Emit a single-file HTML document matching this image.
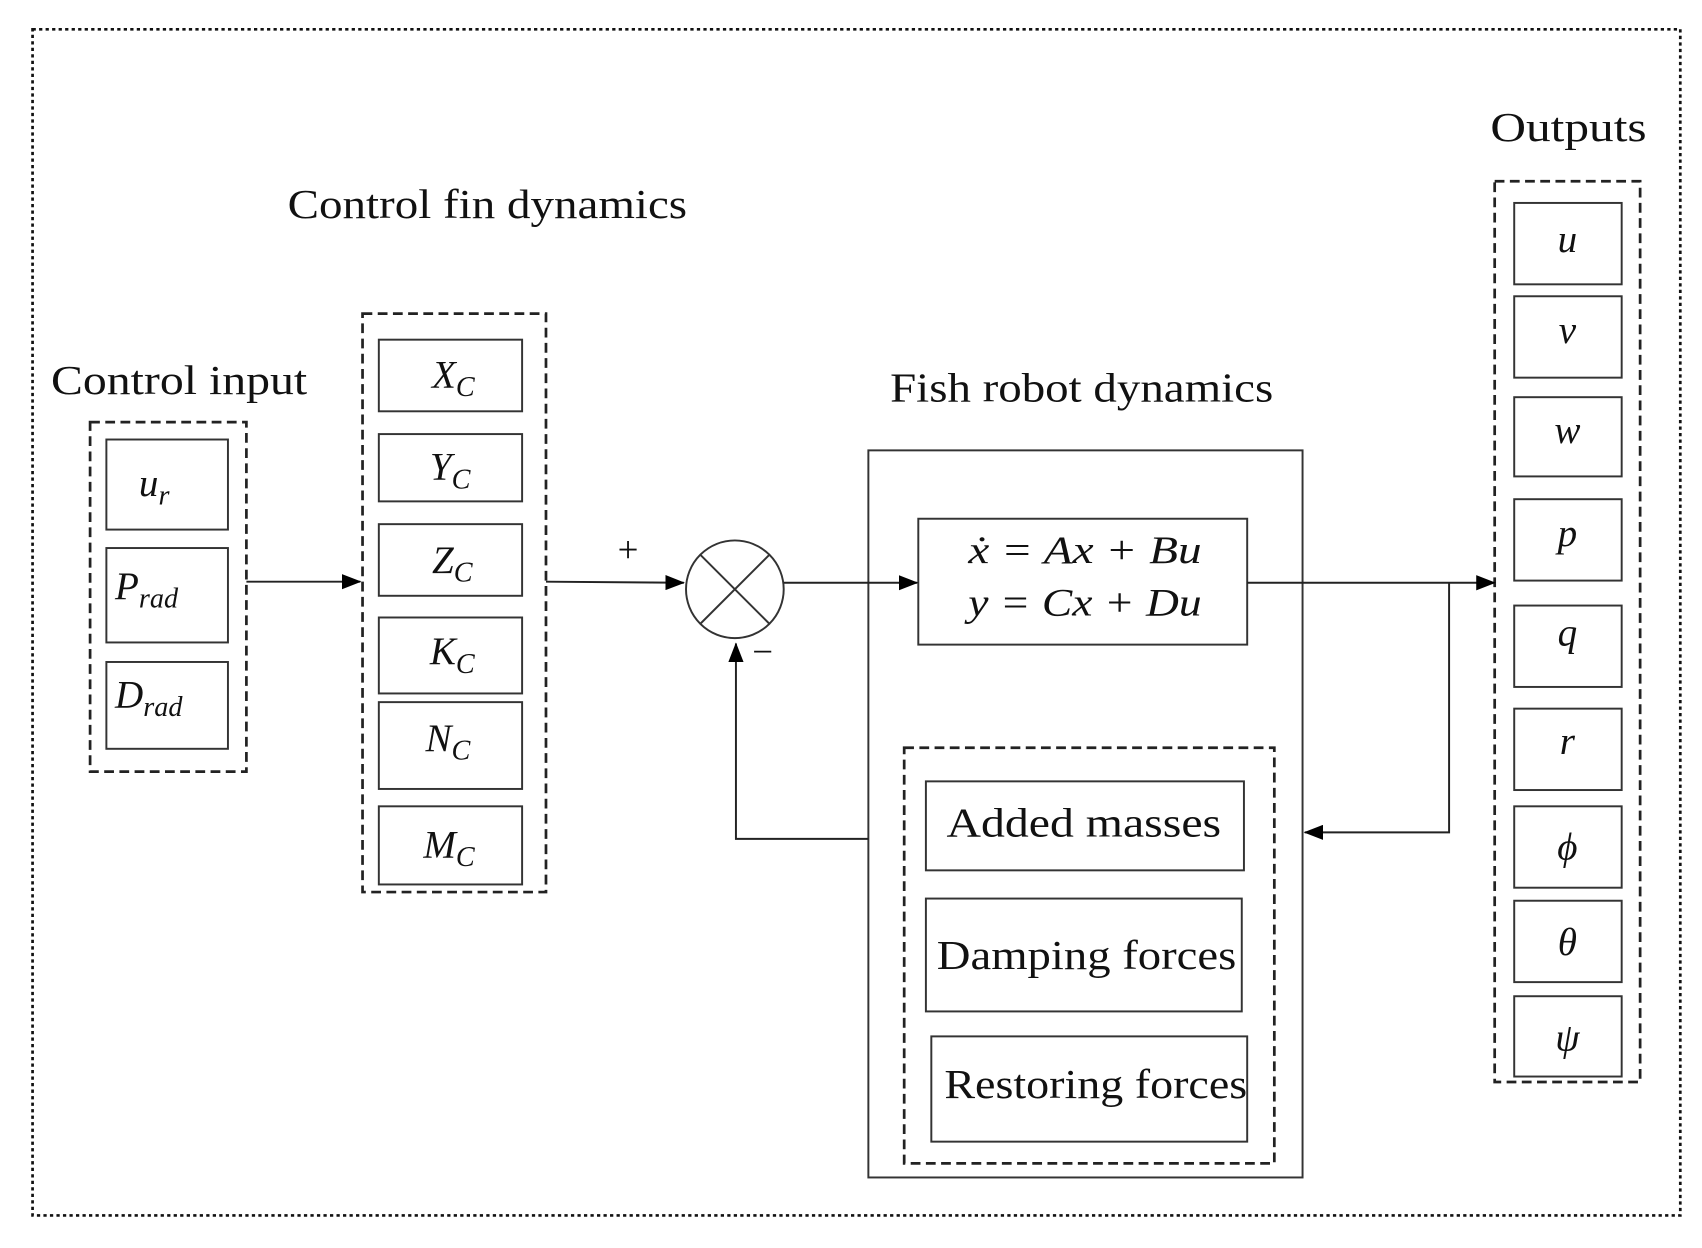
<!DOCTYPE html>
<html><head><meta charset="utf-8"><style>
html,body{margin:0;padding:0;background:#fff;}
svg{display:block;}
text{font-family:"Liberation Serif",serif;fill:#111;}
.m{font-style:italic;}
</style></head><body>
<svg width="1702" height="1248" viewBox="0 0 1568 1150" preserveAspectRatio="none" xmlns="http://www.w3.org/2000/svg">
<defs>
<marker id="b" markerWidth="18" markerHeight="14" refX="17" refY="7" orient="auto" markerUnits="userSpaceOnUse"><path d="M0,0 L18,7 L0,14 z" fill="#000"/></marker></defs>
<rect x="30" y="27" width="1518" height="1093" fill="none" stroke="#111" stroke-width="2.5" stroke-dasharray="3,3"/>
<g fill="none" stroke="#222" stroke-width="2.5" stroke-dasharray="9,5">
<rect x="83" y="389" width="144" height="322"/>
<rect x="334" y="289" width="169" height="533"/>
<rect x="833" y="689" width="341" height="383"/>
<rect x="1377" y="167" width="134" height="830"/>
</g>
<g fill="none" stroke="#333" stroke-width="1.8">
<rect x="98" y="405" width="112" height="83"/><rect x="98" y="505" width="112" height="87"/><rect x="98" y="610" width="112" height="80"/>
<rect x="349" y="313" width="132" height="66"/><rect x="349" y="400" width="132" height="62"/><rect x="349" y="483" width="132" height="66"/>
<rect x="349" y="569" width="132" height="70"/><rect x="349" y="647" width="132" height="80"/><rect x="349" y="743" width="132" height="72"/>
<rect x="800" y="415" width="400" height="670"/>
<rect x="846" y="478" width="303" height="116"/>
<rect x="853" y="720" width="293" height="82"/><rect x="853" y="828" width="291" height="104"/><rect x="858" y="955" width="291" height="97"/>
<rect x="1395" y="187" width="99" height="75"/><rect x="1395" y="273" width="99" height="75"/><rect x="1395" y="366" width="99" height="73"/>
<rect x="1395" y="460" width="99" height="75"/><rect x="1395" y="558" width="99" height="75"/><rect x="1395" y="653" width="99" height="75"/>
<rect x="1395" y="743" width="99" height="75"/><rect x="1395" y="830" width="99" height="75"/><rect x="1395" y="918" width="99" height="74"/>
<circle cx="677" cy="543" r="45"/>
<path d="M645,511 L709,575 M709,511 L645,575"/>
</g>
<g fill="none" stroke="#222" stroke-width="1.8">
<path d="M227,536 L332,536" marker-end="url(#b)"/>
<path d="M503,536 L630,537" marker-end="url(#b)"/>
<path d="M722,537 L845,537" marker-end="url(#b)"/>
<path d="M1149,537 L1377,537" marker-end="url(#b)"/>
<path d="M1335,537 L1335,767 L1202,767" marker-end="url(#b)"/>
<path d="M800,773 L678,773 L678,593" marker-end="url(#b)"/>
</g>
<text x="47" y="363" font-size="38" textLength="236" lengthAdjust="spacingAndGlyphs">Control input</text>
<text x="265" y="201" font-size="38" textLength="368" lengthAdjust="spacingAndGlyphs">Control fin dynamics</text>
<text x="820" y="370" font-size="38" textLength="353" lengthAdjust="spacingAndGlyphs">Fish robot dynamics</text>
<text x="1373" y="130" font-size="38" textLength="144" lengthAdjust="spacingAndGlyphs">Outputs</text>
<text x="569" y="518" font-size="34">+</text>
<text x="693" y="612" font-size="34">−</text>
<g class="m" font-size="36">
<text x="128" y="457" class="m">u<tspan font-size="26" dy="8">r</tspan></text>
<text x="106" y="552" class="m">P<tspan font-size="26" dy="8">rad</tspan></text>
<text x="106" y="652" class="m">D<tspan font-size="26" dy="8">rad</tspan></text>
<text x="398" y="357" class="m">X<tspan font-size="26" dy="8">C</tspan></text>
<text x="396" y="442" class="m">Y<tspan font-size="26" dy="8">C</tspan></text>
<text x="398" y="528" class="m">Z<tspan font-size="26" dy="8">C</tspan></text>
<text x="396" y="612" class="m">K<tspan font-size="26" dy="8">C</tspan></text>
<text x="392" y="692" class="m">N<tspan font-size="26" dy="8">C</tspan></text>
<text x="390" y="790" class="m">M<tspan font-size="26" dy="8">C</tspan></text>
<text x="892" y="519" class="m" textLength="215" lengthAdjust="spacingAndGlyphs">ẋ = Ax + Bu</text>
<text x="892" y="567" class="m" textLength="215" lengthAdjust="spacingAndGlyphs">y = Cx + Du</text>
<text x="1444" y="232" text-anchor="middle" class="m">u</text>
<text x="1444" y="316" text-anchor="middle" class="m">v</text>
<text x="1444" y="408" text-anchor="middle" class="m">w</text>
<text x="1444" y="503" text-anchor="middle" class="m">p</text>
<text x="1444" y="595" text-anchor="middle" class="m">q</text>
<text x="1444" y="695" text-anchor="middle" class="m">r</text>
<text x="1444" y="792" text-anchor="middle" class="m">ϕ</text>
<text x="1444" y="880" text-anchor="middle" class="m">θ</text>
<text x="1444" y="968" text-anchor="middle" class="m">ψ</text>
</g>
<text x="872" y="771" font-size="38" textLength="253" lengthAdjust="spacingAndGlyphs">Added masses</text>
<text x="863" y="893" font-size="38" textLength="276" lengthAdjust="spacingAndGlyphs">Damping forces</text>
<text x="870" y="1012" font-size="38" textLength="279" lengthAdjust="spacingAndGlyphs">Restoring forces</text>
</svg>
</body></html>
